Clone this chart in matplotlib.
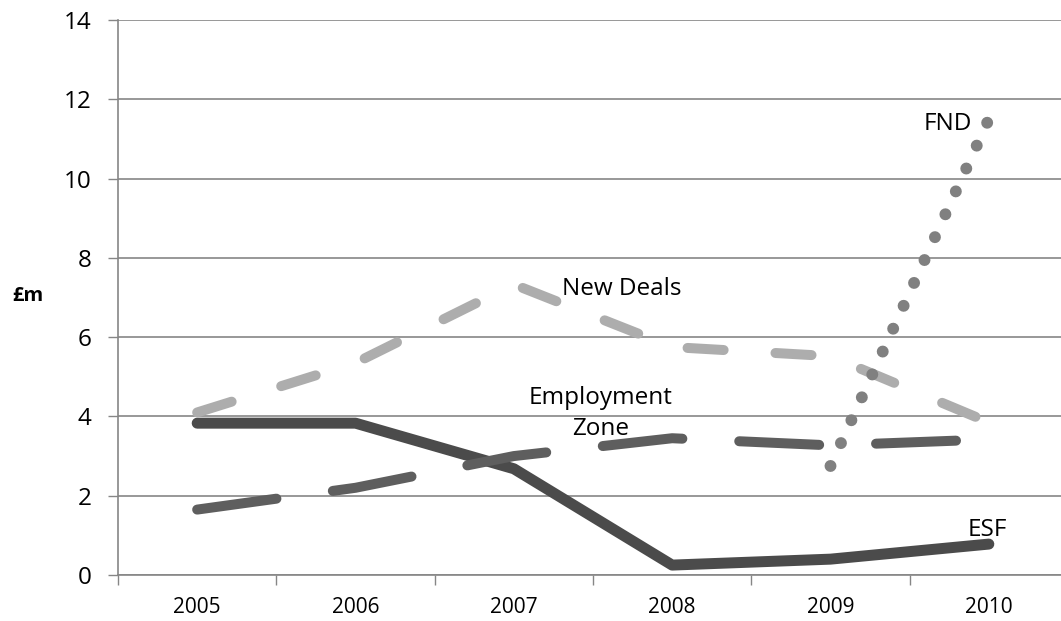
import matplotlib
matplotlib.use("Agg")
import matplotlib.pyplot as plt
import numpy as np

plt.rcParams['font.family'] = ['Open Sans', 'DejaVu Sans']
plt.rcParams['lines.scale_dashes'] = False

years = ['2005', '2006', '2007', '2008', '2009', '2010']
esf = [3.83, 3.83, 2.68, 0.25, 0.40, 0.78]
employment_zone = [1.65, 2.20, 3.00, 3.45, 3.27, 3.42]
new_deals = [4.10, 5.35, 7.33, 5.75, 5.52, 3.85]
fnd_years = ['2009', '2010']
fnd = [2.75, 11.5]

yticks = [0, 2, 4, 6, 8, 10, 12, 14]

fig = plt.figure(figsize=(10.61, 6.21), dpi=100)
ax = fig.add_axes([118/1061, 46/621, 950/1061, 555/621])

x = np.arange(len(years))
xf = np.array([years.index(y) for y in fnd_years])

ax.plot(x, esf, color='#4b4b4b', lw=7.9, solid_capstyle='round', solid_joinstyle='round', zorder=3)
ax.plot(x, employment_zone, color='#5e5e5e', lw=7.2, linestyle=(0, (57.6, 41.0)),
        dash_capstyle='round', dash_joinstyle='round', zorder=4)
ax.plot(x, new_deals, color='#adadad', lw=7.2, linestyle=(0, (26.0, 37.4)),
        dash_capstyle='round', dash_joinstyle='round', zorder=5)
ax.plot(xf, fnd, color='#808080', lw=8.6, linestyle=(0, (0.01, 18.1)),
        dash_capstyle='round', zorder=6)

ax.set_xlim(-0.5, 5.5)
ax.set_ylim(0, 14)
ax.set_yticks(yticks)
ax.set_yticklabels([str(v) for v in yticks])
ax.set_xticks(x)
ax.set_xticklabels(years)
ax.set_xticks(np.arange(-0.5, 6.0, 1.0), minor=True)
ax.tick_params(axis='x', which='major', length=0, labelsize=15, pad=16)
ax.tick_params(axis='x', which='minor', length=7.2, width=1, color='#868686', direction='out')
ax.tick_params(axis='y', length=7.2, width=1, color='#868686', labelsize=17.5, pad=12)

ax.grid(axis='y', color='#868686', lw=1.2)
ax.set_axisbelow(True)
for s in ['top', 'right']:
    ax.spines[s].set_visible(False)
for s in ['left', 'bottom']:
    ax.spines[s].set_color('#868686')
    ax.spines[s].set_linewidth(1.2)

ax.text(4.744, 11.38, 'FND', fontsize=17.5, ha='center', va='center', zorder=7)
ax.text(4.99, 1.135, 'ESF', fontsize=17.5, ha='center', va='center', zorder=7)
ax.text(2.68, 7.21, 'New Deals', fontsize=17.5, ha='center', va='center', zorder=7)
ax.text(2.55, 4.07, 'Employment\nZone', fontsize=17.5, ha='center', va='center',
        linespacing=1.4, zorder=7)

fig.text(28/1061, 1 - 296/621, '£m', fontsize=14.5, fontweight='bold', ha='center', va='center')

fig.savefig('out.png', dpi=100)
